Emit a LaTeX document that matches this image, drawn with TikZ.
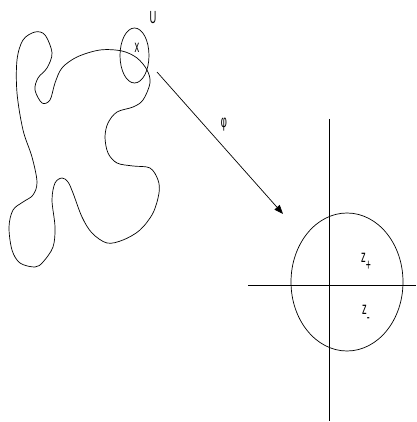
\documentclass[tikz,border=0pt]{standalone}
\usepackage{graphicx}
\usepackage{fontspec}
\setmainfont{Liberation Sans}
\usetikzlibrary{arrows.meta,shapes.geometric}
\newcommand{\lbl}[1]{\scalebox{0.72}[1.35]{\fontsize{13}{14}\selectfont #1}}
\begin{document}
\begin{tikzpicture}[x=1pt,y=-1pt,line width=0.7pt,
  lab/.style={inner sep=0pt}]
\useasboundingbox (0,0) rectangle (416,422);
% blob
\draw plot[smooth cycle, tension=0.55] coordinates {
(55,83)(62,68)(77,57)(100,50)(122,51)(137,58)(147,70)(150,83)(143,100)(133,107)
(117,112)(108,123)(105,137)(108,153)(117,163)(133,166)(150,168)(158,180)(159,193)
(153,213)(140,230)(123,240)(107,243)(92,233)(82,217)(73,193)(68,182)(62,178)
(55,183)(52,200)(55,227)(53,247)(43,262)(35,267)(20,263)(12,250)(9,227)(13,210)
(23,202)(33,195)(37,182)(32,157)(23,130)(17,93)(17,60)(23,40)(35,32)(45,35)
(52,53)(47,68)(38,78)(35,90)(42,103)(50,100)};
% U neighbourhood
\node[draw,ellipse,minimum width=29pt,minimum height=55pt,inner sep=0pt,line width=0.7pt] (U) at (134.5,55.5) {};
\node[lab] (Ulbl) at (153,18) {\lbl{U}};
\node[lab] (xlbl) at (137,48) {\lbl{x}};
% map
\coordinate (a0) at (157,72);
\coordinate (a1) at (283,214);
\draw[-{Triangle[length=9pt,width=7pt]}] (a0) -- (a1);
\node[lab] (phi) at (224,125) {\lbl{φ}};
% axes
\coordinate (vt) at (329,119);
\coordinate (vb) at (329,421);
\coordinate (hl) at (248,285);
\coordinate (hr) at (416,285);
\draw (vt) -- (vb);
\draw (hl) -- (hr);
% disc
\node[draw,ellipse,minimum width=112pt,minimum height=138pt,inner sep=0pt,line width=0.7pt] (D) at (347,282) {};
\node[lab] (zp) at (366,262) {\lbl{z\raisebox{-0.8ex}{\fontsize{12}{12}\selectfont +}}};
\node[lab] (zm) at (366,314) {\lbl{z\raisebox{-0.8ex}{\fontsize{12}{12}\selectfont -}}};
\end{tikzpicture}
\end{document}
